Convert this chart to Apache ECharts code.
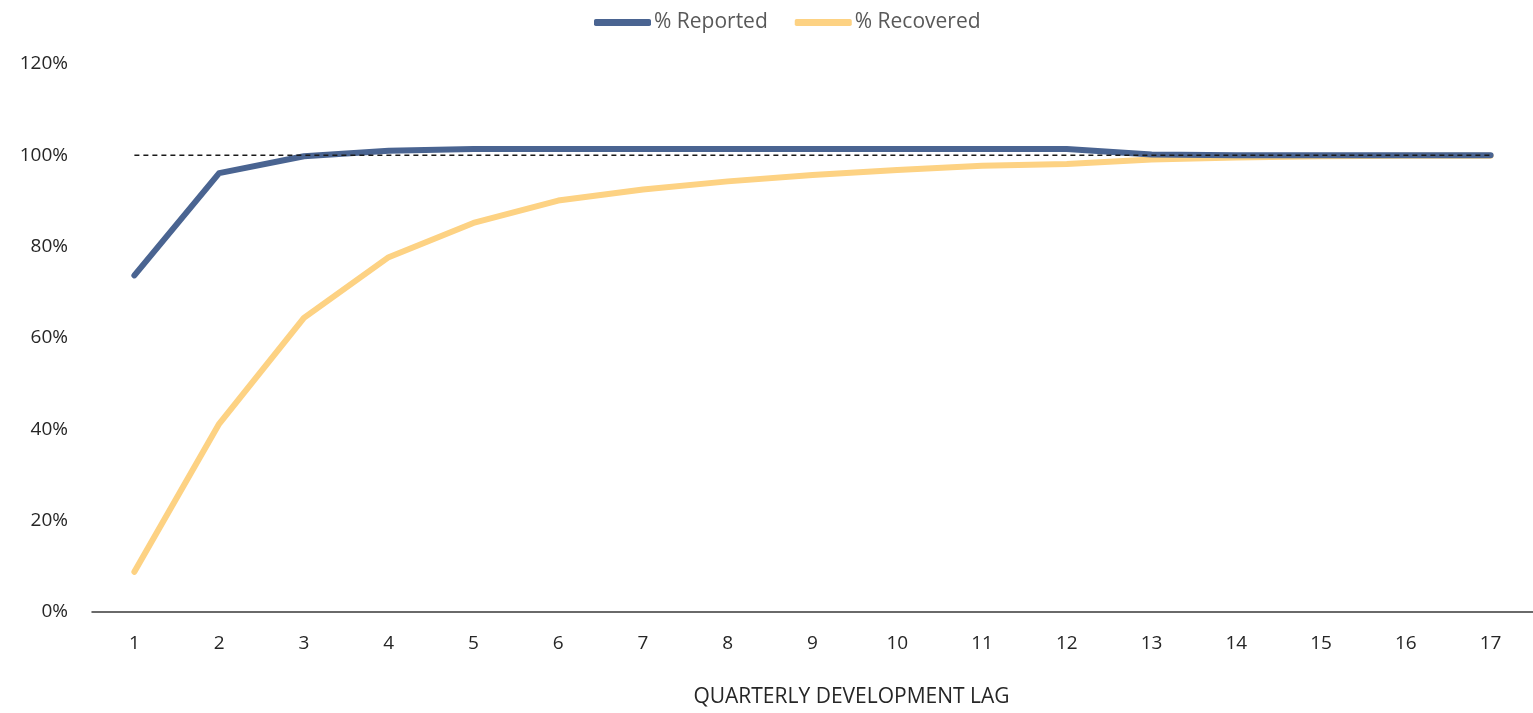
<!DOCTYPE html>
<html>
<head>
<meta charset="utf-8">
<script src="https://cdn.jsdelivr.net/npm/echarts@6/dist/echarts.min.js"></script>
<style>
html,body{margin:0;padding:0;background:#fff;overflow:hidden;}
#chart{width:1533px;height:713px;}
</style>
</head>
<body>
<div id="chart"></div>
<script>
var categories = ['1','2','3','4','5','6','7','8','9','10','11','12','13','14','15','16','17'];
var reported = [0.737, 0.961, 0.998, 1.010, 1.014, 1.014, 1.014, 1.014, 1.014, 1.014, 1.014, 1.014, 1.002, 1.000, 1.000, 1.000, 1.000];
var recovered = [0.088, 0.412, 0.644, 0.777, 0.852, 0.901, 0.925, 0.943, 0.957, 0.968, 0.977, 0.981, 0.991, 0.995, 0.998, 0.999, 0.999];
var target = [1,1,1,1,1,1,1,1,1,1,1,1,1,1,1,1,1];
var yTicks = [0, 0.2, 0.4, 0.6, 0.8, 1.0, 1.2];

var fontFam = '"Open Sans", "Noto Sans", sans-serif';
var chart = echarts.init(document.getElementById('chart'));
chart.setOption({
  animation: false,
  backgroundColor: '#ffffff',
  legend: {
    data: ['% Reported', '% Recovered'],
    top: 7,
    left: 589,
    icon: 'roundRect',
    itemWidth: 57,
    itemHeight: 7,
    itemGap: 27,
    textStyle: { color: '#595959', fontSize: 21, fontFamily: fontFam, padding: [0,0,0,-2] }
  },
  grid: { left: 92, width: 1448, top: 64, height: 556, containLabel: false },
  xAxis: {
    type: 'category',
    data: categories,
    boundaryGap: true,
    axisLine: { show: true, lineStyle: { color: '#3a3a3a', width: 1.5 } },
    axisTick: { show: false },
    axisLabel: { color: '#262626', fontSize: 19, fontFamily: fontFam, margin: 22 },
    name: 'QUARTERLY DEVELOPMENT LAG',
    nameLocation: 'middle',
    nameGap: 75,
    nameTextStyle: { color: '#262626', fontSize: 21, fontFamily: fontFam, padding: [0,0,0,78] }
  },
  yAxis: {
    type: 'value',
    min: yTicks[0],
    max: yTicks[yTicks.length - 1],
    interval: 0.2,
    axisLine: { show: false },
    axisTick: { show: false },
    splitLine: { show: false },
    axisLabel: {
      color: '#262626', fontSize: 19, fontFamily: fontFam, margin: 24,
      formatter: function (v) { return Math.round(v * 100) + '%'; }
    }
  },
  series: [
    {
      name: '% Reported', type: 'line', data: reported,
      symbol: 'none', z: 3,
      lineStyle: { color: '#4a6491', width: 6, cap: 'round', join: 'round' },
      itemStyle: { color: '#4a6491' }
    },
    {
      name: '% Recovered', type: 'line', data: recovered,
      symbol: 'none', z: 2,
      lineStyle: { color: '#fdd283', width: 6, cap: 'round', join: 'round' },
      itemStyle: { color: '#fdd283' }
    },
    {
      name: 'Target', type: 'line', data: target,
      symbol: 'none', z: 5, silent: true,
      lineStyle: { color: '#1a1a1a', width: 1.5, type: [5, 4] }
    }
  ]
});
</script>
</body>
</html>
